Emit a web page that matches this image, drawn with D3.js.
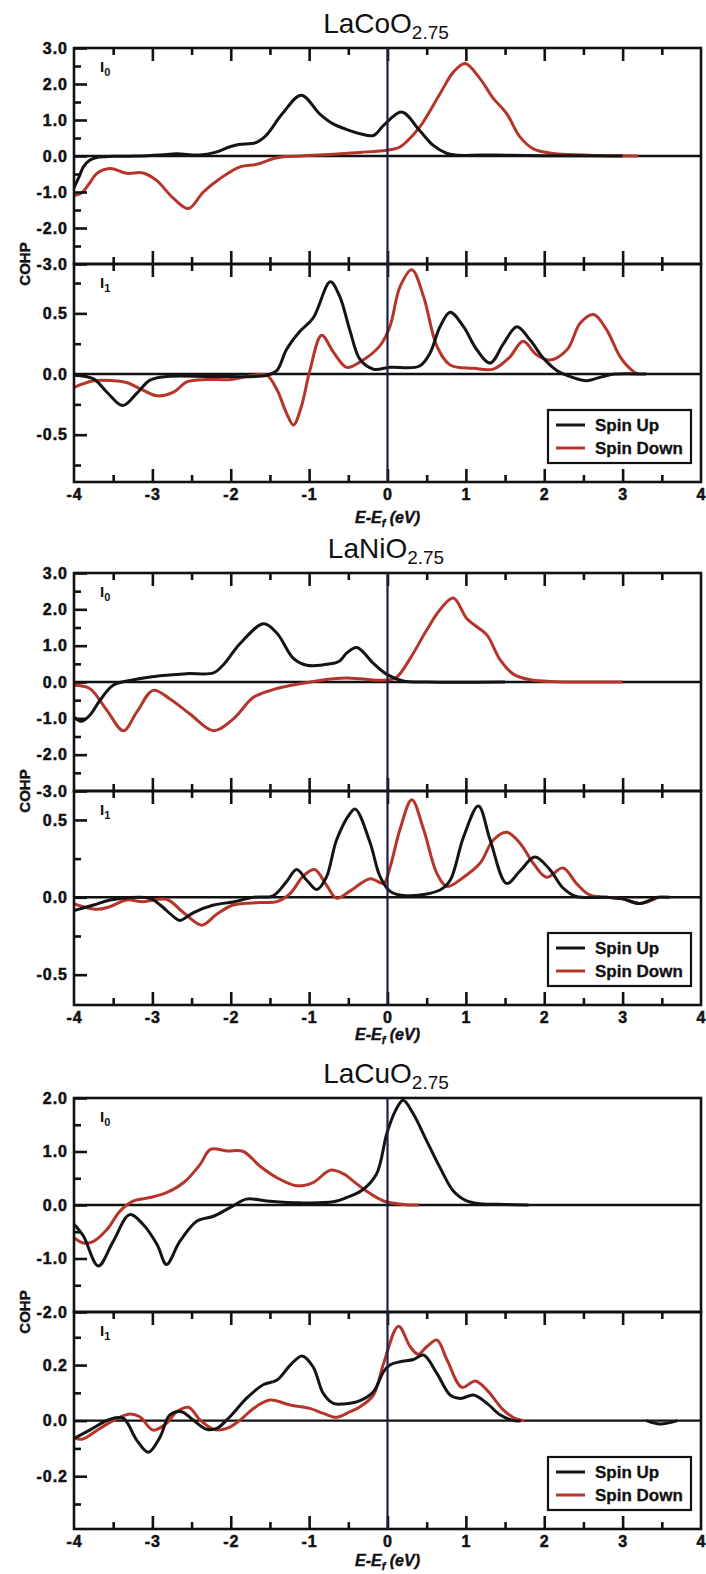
<!DOCTYPE html>
<html>
<head>
<meta charset="utf-8">
<script src="https://cdn.jsdelivr.net/npm/d3@7"></script>
<style>
  body { margin: 0; background: #fff; }
  svg { display: block; font-family: "Liberation Sans", Arial, sans-serif; }
</style>
</head>
<body>
<svg id="chart" width="706" height="1574"></svg>
<script>
// spin up / spin down COHP curves, [E-Ef (eV), value]
const coUpI0 = [[-4,-0.88],[-3.93,-0.55],[-3.88,-0.3],[-3.8,-0.12],[-3.71,-0.04],[-3.5,-0.01],[-3.2,0],[-2.9,0.03],[-2.69,0.06],[-2.4,0.03],[-2.2,0.1],[-2.02,0.25],[-1.9,0.32],[-1.68,0.37],[-1.55,0.57],[-1.34,1.18],[-1.1,1.69],[-0.87,1.18],[-0.7,0.9],[-0.5,0.72],[-0.35,0.62],[-0.18,0.57],[-0.05,0.85],[0.18,1.22],[0.41,0.71],[0.58,0.3],[0.76,0.07],[0.9,0.02],[1.2,0.03],[1.5,0.02],[2.0,0.01],[3.0,0]];
const coDnI0 = [[-4,-1.1],[-3.9,-1.02],[-3.8,-0.75],[-3.71,-0.49],[-3.54,-0.35],[-3.33,-0.48],[-3.12,-0.47],[-2.95,-0.67],[-2.73,-1.18],[-2.54,-1.46],[-2.35,-1.0],[-2.14,-0.63],[-1.88,-0.3],[-1.67,-0.23],[-1.41,-0.05],[-1.11,0],[-0.69,0.05],[-0.35,0.1],[-0.01,0.16],[0.15,0.24],[0.24,0.39],[0.41,0.8],[0.67,1.73],[0.84,2.33],[0.99,2.57],[1.18,2.15],[1.35,1.6],[1.52,1.18],[1.69,0.53],[1.86,0.2],[2.12,0.07],[2.5,0.03],[2.8,0.01],[3.2,0]];
const coUpI1 = [[-4,-0.01],[-3.75,-0.04],[-3.58,-0.15],[-3.38,-0.26],[-3.2,-0.16],[-3.03,-0.05],[-2.81,-0.02],[-2.2,-0.02],[-1.54,-0.01],[-1.41,0.03],[-1.29,0.2],[-1.12,0.35],[-0.95,0.46],[-0.73,0.76],[-0.61,0.64],[-0.48,0.36],[-0.35,0.12],[-0.18,0.04],[0.03,0.055],[0.41,0.066],[0.54,0.17],[0.67,0.39],[0.8,0.51],[0.97,0.39],[1.14,0.2],[1.31,0.09],[1.48,0.25],[1.65,0.39],[1.82,0.28],[1.99,0.13],[2.16,0.03],[2.37,-0.03],[2.54,-0.055],[2.75,-0.02],[2.9,0],[3.3,0]];
const coDnI1 = [[-4,-0.11],[-3.75,-0.055],[-3.5,-0.055],[-3.33,-0.07],[-3.16,-0.12],[-2.94,-0.18],[-2.73,-0.15],[-2.56,-0.065],[-2.3,-0.045],[-2.0,-0.045],[-1.71,-0.01],[-1.54,-0.01],[-1.41,-0.13],[-1.29,-0.32],[-1.2,-0.42],[-1.1,-0.27],[-0.99,0.03],[-0.84,0.32],[-0.69,0.18],[-0.52,0.055],[-0.35,0.1],[-0.1,0.23],[0.03,0.39],[0.16,0.72],[0.31,0.86],[0.46,0.64],[0.63,0.23],[0.8,0.075],[1.1,0.047],[1.35,0.04],[1.56,0.14],[1.73,0.27],[1.9,0.16],[2.07,0.115],[2.29,0.2],[2.46,0.42],[2.63,0.49],[2.8,0.36],[2.97,0.14],[3.14,0.02],[3.2,0]];

const niUpI0 = [[-4,-0.97],[-3.9,-1.08],[-3.8,-0.92],[-3.67,-0.51],[-3.5,-0.09],[-3.24,0.06],[-2.9,0.17],[-2.56,0.23],[-2.22,0.25],[-2.1,0.46],[-1.88,1.06],[-1.58,1.6],[-1.41,1.34],[-1.2,0.65],[-1.03,0.46],[-0.73,0.5],[-0.61,0.58],[-0.52,0.8],[-0.39,0.95],[-0.18,0.51],[-0.01,0.21],[0.2,0.03],[0.5,0],[1.5,0]];
const niDnI0 = [[-4,-0.09],[-3.8,-0.18],[-3.58,-0.78],[-3.37,-1.34],[-3.2,-0.83],[-2.99,-0.23],[-2.78,-0.46],[-2.52,-0.88],[-2.22,-1.34],[-1.97,-1.02],[-1.71,-0.42],[-1.46,-0.21],[-1.12,-0.05],[-0.69,0.09],[-0.52,0.11],[-0.35,0.09],[-0.01,0.05],[0.12,0.14],[0.29,0.65],[0.5,1.43],[0.67,1.99],[0.84,2.31],[1.01,1.75],[1.14,1.52],[1.27,1.29],[1.44,0.6],[1.61,0.21],[1.82,0.06],[2.16,0.01],[3,0]];
const niUpI1 = [[-4,-0.086],[-3.75,-0.05],[-3.54,-0.017],[-3.03,-0.006],[-2.9,-0.05],[-2.73,-0.125],[-2.65,-0.15],[-2.48,-0.1],[-2.22,-0.05],[-1.97,-0.03],[-1.71,0],[-1.46,0.01],[-1.29,0.1],[-1.16,0.18],[-1.03,0.11],[-0.9,0.05],[-0.78,0.13],[-0.65,0.37],[-0.48,0.54],[-0.41,0.57],[-0.22,0.35],[-0.1,0.14],[0.03,0.04],[0.24,0.01],[0.67,0.047],[0.8,0.11],[0.97,0.39],[1.16,0.59],[1.31,0.37],[1.52,0.09],[1.69,0.17],[1.88,0.26],[2.07,0.18],[2.24,0.06],[2.41,0.005],[2.8,0],[3.0,-0.01],[3.22,-0.04],[3.45,0],[3.6,0]];
const niDnI1 = [[-4,-0.043],[-3.71,-0.078],[-3.54,-0.06],[-3.33,-0.017],[-3.12,-0.028],[-2.82,-0.013],[-2.6,-0.1],[-2.37,-0.18],[-2.18,-0.11],[-1.97,-0.05],[-1.63,-0.034],[-1.41,-0.028],[-1.24,0.026],[-1.07,0.14],[-0.93,0.18],[-0.78,0.08],[-0.65,-0.006],[-0.48,0.04],[-0.22,0.12],[-0.05,0.09],[0.03,0.19],[0.16,0.44],[0.31,0.63],[0.46,0.44],[0.63,0.155],[0.76,0.07],[0.97,0.13],[1.18,0.22],[1.35,0.37],[1.52,0.42],[1.69,0.35],[1.86,0.22],[2.03,0.13],[2.24,0.19],[2.41,0.09],[2.58,0.015],[2.8,0],[3.0,-0.01],[3.22,-0.04],[3.45,0]];

const cuUpI0 = [[-4,-0.36],[-3.88,-0.58],[-3.69,-1.14],[-3.5,-0.68],[-3.29,-0.18],[-3.12,-0.36],[-2.94,-0.74],[-2.82,-1.11],[-2.65,-0.68],[-2.43,-0.3],[-2.22,-0.21],[-2.01,-0.05],[-1.8,0.11],[-1.54,0.075],[-1.12,0.04],[-0.69,0.06],[-0.52,0.14],[-0.33,0.27],[-0.14,0.58],[-0.01,1.33],[0.1,1.76],[0.2,1.96],[0.33,1.7],[0.5,1.2],[0.67,0.7],[0.84,0.26],[1.01,0.075],[1.18,0.025],[1.5,0.01],[1.8,0]];
const cuDnI0 = [[-4,-0.61],[-3.88,-0.71],[-3.75,-0.68],[-3.58,-0.46],[-3.41,-0.11],[-3.24,0.075],[-3.03,0.14],[-2.82,0.23],[-2.6,0.42],[-2.39,0.76],[-2.26,1.04],[-2.05,1.01],[-1.84,1.0],[-1.63,0.73],[-1.41,0.51],[-1.16,0.36],[-0.95,0.42],[-0.73,0.65],[-0.56,0.58],[-0.44,0.45],[-0.27,0.26],[-0.05,0.075],[0.2,0.01],[0.4,0]];
const cuUpI1 = [[-4,-0.064],[-3.8,-0.034],[-3.54,0.005],[-3.37,0.008],[-3.2,-0.07],[-3.05,-0.114],[-2.9,-0.058],[-2.78,0.02],[-2.63,0.032],[-2.48,0.002],[-2.31,-0.031],[-2.18,-0.028],[-2.01,0.014],[-1.8,0.08],[-1.58,0.13],[-1.41,0.146],[-1.24,0.2],[-1.09,0.233],[-0.95,0.194],[-0.82,0.098],[-0.69,0.062],[-0.56,0.06],[-0.35,0.072],[-0.18,0.104],[-0.05,0.176],[0.03,0.2],[0.16,0.212],[0.33,0.22],[0.46,0.236],[0.63,0.17],[0.8,0.092],[0.93,0.08],[1.1,0.092],[1.27,0.062],[1.44,0.02],[1.61,0],[1.7,0]];
const cuUpTail = [[3.3,0],[3.48,-0.012],[3.7,0]];
const cuDnI1 = [[-4,-0.06],[-3.9,-0.067],[-3.67,-0.028],[-3.5,0],[-3.29,0.024],[-3.16,0.014],[-2.99,-0.034],[-2.82,-0.01],[-2.69,0.032],[-2.54,0.048],[-2.39,0.002],[-2.22,-0.031],[-2.05,-0.028],[-1.88,0.002],[-1.71,0.044],[-1.5,0.074],[-1.24,0.056],[-0.99,0.044],[-0.82,0.026],[-0.65,0.012],[-0.48,0.032],[-0.35,0.05],[-0.18,0.092],[-0.05,0.206],[0.14,0.34],[0.29,0.266],[0.39,0.239],[0.5,0.266],[0.63,0.29],[0.76,0.218],[0.95,0.12],[1.12,0.143],[1.27,0.11],[1.48,0.038],[1.65,0.005],[1.75,0]];

// ticks
const xMajor = [-4, -3, -2, -1, 0, 1, 2, 3, 4];
const xMinor = [-3.5, -2.5, -1.5, -0.5, 0.5, 1.5, 2.5, 3.5];
const i0Major3 = [-3, -2, -1, 0, 1, 2, 3];
const i0Minor3 = [-2.5, -1.5, -0.5, 0.5, 1.5, 2.5];
const i0Major2 = [-2, -1, 0, 1, 2];
const i0Minor2 = [-1.5, -0.5, 0.5, 1.5];
const coI1Major = [-0.5, 0, 0.5];
const coI1Minor = [-0.75, -0.25, 0.25, 0.75];
const niI1Major = [-0.5, 0, 0.5];
const niI1Minor = [-0.25, 0.25];
const cuI1Major = [-0.2, 0, 0.2];
const cuI1Minor = [-0.3, -0.1, 0.1, 0.3];

const titles = ["LaCoO", "LaNiO", "LaCuO"];
const titleSub = "2.75";
const legendNames = ["Spin Up", "Spin Down"];

const UP = "#141414", DN = "#b5352b", NAVY = "#1b1f4c";
const left = 74, right = 701;

const figs = [
  {title: titles[0], titleY: 33, top: 48, mid: 264, bottom: 482, xTitleY: 523, topTicks: true,
   i0: {domain: [-3, 3], major: i0Major3, minor: i0Minor3, up: [coUpI0], dn: coDnI0},
   i1: {domain: [-0.89, 0.907], major: coI1Major, minor: coI1Minor, up: [coUpI1], dn: coDnI1}},
  {title: titles[1], titleY: 558, top: 573, mid: 791, bottom: 1005, xTitleY: 1040, topTicks: true,
   i0: {domain: [-3, 3], major: i0Major3, minor: i0Minor3, up: [niUpI0], dn: niDnI0},
   i1: {domain: [-0.696, 0.687], major: niI1Major, minor: niI1Minor, up: [niUpI1], dn: niDnI1}},
  {title: titles[2], titleY: 1083, top: 1098, mid: 1312, bottom: 1529, xTitleY: 1566, topTicks: false,
   i0: {domain: [-2, 2], major: i0Major2, minor: i0Minor2, up: [cuUpI0], dn: cuDnI0},
   i1: {domain: [-0.39, 0.391], major: cuI1Major, minor: cuI1Minor, up: [cuUpI1, cuUpTail], dn: cuDnI1}}
];

const svg = d3.select("#chart");
const x = d3.scaleLinear().domain([-4, 4]).range([left, right]);

const styleAxis = (g) => {
  g.select(".domain").remove();
  g.selectAll(".tick line").attr("stroke", "#111").attr("stroke-width", 2.6);
  g.selectAll(".tick text").attr("fill", "#111").attr("font-size", 16).attr("font-weight", "bold")
    .attr("letter-spacing", 1).attr("stroke", "#111").attr("stroke-width", 0.5);
};

let clipId = 0;
const drawPanel = (fig, p, y0, y1, index, xTicksTop, xTicksBottom, labels) => {
  const g = svg.append("g");
  const y = d3.scaleLinear().domain(p.domain).range([y1, y0]);
  const id = "clip" + (clipId++);
  svg.append("clipPath").attr("id", id).append("rect")
    .attr("x", left).attr("y", y0).attr("width", right - left).attr("height", y1 - y0);

  g.append("line").attr("x1", left).attr("x2", right).attr("y1", y(0)).attr("y2", y(0))
    .attr("stroke", "#111").attr("stroke-width", 2.4);

  const line = d3.line().x(d => x(d[0])).y(d => y(d[1])).curve(d3.curveCatmullRom.alpha(0.5));
  const cg = g.append("g").attr("clip-path", `url(#${id})`);
  cg.append("path").attr("d", line(p.dn)).attr("fill", "none").attr("stroke", DN).attr("stroke-width", 3);
  p.up.forEach(s => cg.append("path").attr("d", line(s)).attr("fill", "none").attr("stroke", UP).attr("stroke-width", 3));

  // y ticks, pointing inward
  g.append("g").attr("transform", `translate(${left},0)`)
    .call(d3.axisLeft(y).tickValues(p.major).tickSize(-13).tickSizeOuter(0).tickPadding(6).tickFormat(d => d.toFixed(1)))
    .call(styleAxis);
  g.append("g").attr("transform", `translate(${left},0)`)
    .call(d3.axisLeft(y).tickValues(p.minor).tickSize(-7).tickSizeOuter(0).tickFormat(""))
    .call(styleAxis);

  if (xTicksTop) {
    g.append("g").attr("transform", `translate(0,${y0})`)
      .call(d3.axisTop(x).tickValues(xMajor.slice(1, -1)).tickSize(-13).tickSizeOuter(0).tickFormat("")).call(styleAxis);
    g.append("g").attr("transform", `translate(0,${y0})`)
      .call(d3.axisTop(x).tickValues(xMinor).tickSize(-7).tickSizeOuter(0).tickFormat("")).call(styleAxis);
  }
  if (xTicksBottom) {
    const ax = g.append("g").attr("transform", `translate(0,${y1})`)
      .call(d3.axisBottom(x).tickValues(xMajor).tickSize(-13).tickSizeOuter(0).tickPadding(7)
        .tickFormat(labels ? (d => String(d)) : ""))
      .call(styleAxis);
    ax.selectAll(".tick line").filter(d => d === -4 || d === 4).remove();
    g.append("g").attr("transform", `translate(0,${y1})`)
      .call(d3.axisBottom(x).tickValues(xMinor).tickSize(-7).tickSizeOuter(0).tickFormat("")).call(styleAxis);
  }

  g.append("rect").attr("x", left).attr("y", y0).attr("width", right - left).attr("height", y1 - y0)
    .attr("fill", "none").attr("stroke", "#111").attr("stroke-width", 2.6);

  const lab = g.append("text").attr("x", 100).attr("y", y0 + 24).attr("font-size", 15)
    .attr("font-weight", "bold").attr("fill", "#111").text("I");
  lab.append("tspan").attr("dy", 4).attr("font-size", 11).text(index);
};

figs.forEach(fig => {
  svg.append("text").attr("x", 386).attr("y", fig.titleY).attr("text-anchor", "middle")
    .attr("font-size", 28).attr("fill", "#111").text(fig.title)
    .append("tspan").attr("dy", 6).attr("font-size", 19).text(titleSub);

  drawPanel(fig, fig.i0, fig.top, fig.mid, 0, fig.topTicks, fig.topTicks, false);
  drawPanel(fig, fig.i1, fig.mid, fig.bottom, 1, true, true, true);

  // Fermi level
  svg.append("line").attr("x1", x(0)).attr("x2", x(0)).attr("y1", fig.top).attr("y2", fig.bottom)
    .attr("stroke", NAVY).attr("stroke-width", 2.2);

  svg.append("text").attr("transform", `translate(30,${fig.mid}) rotate(-90)`).attr("text-anchor", "middle")
    .attr("font-size", 15).attr("font-weight", "bold").attr("fill", "#111")
    .attr("stroke", "#111").attr("stroke-width", 0.4).text("COHP");

  const xt = svg.append("text").attr("x", x(0)).attr("y", fig.xTitleY).attr("text-anchor", "middle")
    .attr("font-size", 16).attr("font-weight", "bold").attr("font-style", "italic").attr("fill", "#111")
    .attr("stroke", "#111").attr("stroke-width", 0.4);
  xt.append("tspan").text("E-E");
  xt.append("tspan").attr("dy", 4).attr("font-size", 11).text("f");
  xt.append("tspan").attr("dy", -4).text(" (eV)");

  // legend
  const ly = fig.bottom - 19 - 53;
  const lg = svg.append("g");
  lg.append("rect").attr("x", 548).attr("y", ly).attr("width", 143).attr("height", 53)
    .attr("fill", "#fff").attr("stroke", "#111").attr("stroke-width", 2.2);
  legendNames.forEach((name, i) => {
    lg.append("line").attr("x1", 556).attr("x2", 585).attr("y1", ly + 15 + i * 23).attr("y2", ly + 15 + i * 23)
      .attr("stroke", i ? DN : UP).attr("stroke-width", 3);
    lg.append("text").attr("x", 595).attr("y", ly + 21 + i * 23).attr("font-size", 17)
      .attr("font-weight", "bold").attr("fill", "#111").attr("stroke", "#111").attr("stroke-width", 0.3).text(name);
  });
});
</script>
</body>
</html>
